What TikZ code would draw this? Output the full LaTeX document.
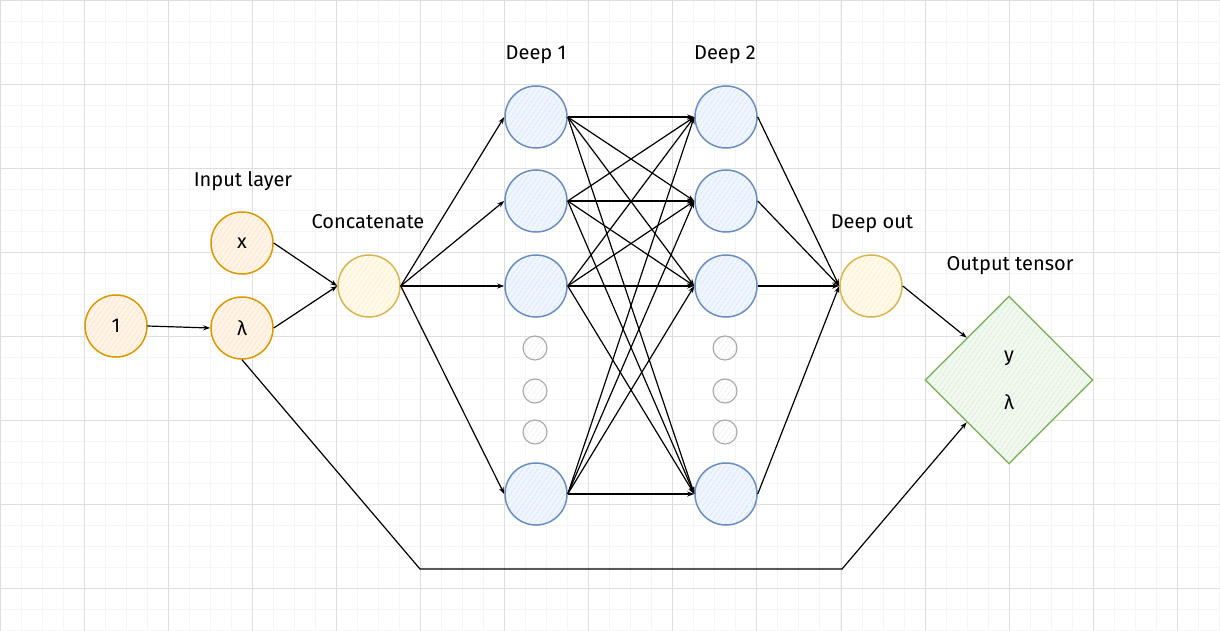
\documentclass[tikz,border=0pt]{standalone}
\usepackage{fontspec}
\setmainfont{Fira Sans}
\usetikzlibrary{arrows.meta,patterns.meta,shapes.geometric}
\definecolor{majorgrid}{HTML}{DEDEDE}
\definecolor{minorgrid}{HTML}{F5F5F5}
\definecolor{orangestroke}{HTML}{D79B00}
\definecolor{orangebase}{HTML}{FFF4E8}
\definecolor{orangehatch}{HTML}{FCD5AA}
\definecolor{yellowstroke}{HTML}{D6B656}
\definecolor{yellowbase}{HTML}{FFFAEA}
\definecolor{yellowhatch}{HTML}{FBE6A4}
\definecolor{bluestroke}{HTML}{6C8EBF}
\definecolor{bluebase}{HTML}{F0F6FE}
\definecolor{bluehatch}{HTML}{C2D8F4}
\definecolor{greenstroke}{HTML}{82B366}
\definecolor{greenbase}{HTML}{F2F9F0}
\definecolor{greenhatch}{HTML}{C6E1BD}
\definecolor{greystroke}{HTML}{A8A8A8}
\definecolor{greyhatch}{HTML}{E2E2E2}
\newcommand{\labfont}{\fontsize{20}{24}\selectfont}
\tikzset{
  minorline/.style={draw=minorgrid, line width=1pt},
  majorline/.style={draw=majorgrid, line width=1pt},
  neuron/.style={circle, minimum size=62pt, inner sep=0pt, line width=1.5pt, font=\labfont},
  orangenode/.style={neuron, draw=orangestroke, preaction={fill=orangebase},
    pattern={Lines[angle=55,distance=4pt,line width=0.7pt]}, pattern color=orangehatch},
  yellownode/.style={neuron, draw=yellowstroke, preaction={fill=yellowbase},
    pattern={Lines[angle=55,distance=4pt,line width=0.7pt]}, pattern color=yellowhatch},
  bluenode/.style={neuron, draw=bluestroke, preaction={fill=bluebase},
    pattern={Lines[angle=55,distance=4pt,line width=0.7pt]}, pattern color=bluehatch},
  greynode/.style={circle, minimum size=24pt, inner sep=0pt, line width=1.1pt, draw=greystroke,
    pattern={Lines[angle=55,distance=4pt,line width=0.6pt]}, pattern color=greyhatch},
  outnode/.style={diamond, aspect=1, minimum width=168pt, minimum height=168pt, inner sep=0pt,
    line width=1.4pt, draw=greenstroke, preaction={fill=greenbase},
    pattern={Lines[angle=55,distance=4pt,line width=0.7pt]}, pattern color=greenhatch,
    align=center, font=\fontsize{20}{48}\selectfont},
  caption/.style={anchor=base, inner sep=0pt, font=\labfont},
  edge/.style={draw=black, line width=1.2pt, -{Stealth[length=7pt,width=5pt]}}
}
\begin{document}
\begin{tikzpicture}[x=1pt,y=-1pt]
\useasboundingbox (0,0) rectangle (1220,631);
\fill[white] (0,0) rectangle (1220,631);
% grid
\foreach \i in {0,...,58} { \pgfmathsetmacro{\gx}{round(21.0125*\i)+0.5} \draw[minorline] (\gx,0) -- ++(0,631); }
\foreach \j in {0,...,30} { \pgfmathsetmacro{\gy}{round(21.0125*\j)+0.5} \draw[minorline] (0,\gy) -- ++(1220,0); }
\foreach \i in {0,...,14} { \pgfmathsetmacro{\gx}{round(84.05*\i)+0.5} \draw[majorline] (\gx,0) -- ++(0,631); }
\foreach \j in {0,...,7} { \pgfmathsetmacro{\gy}{round(84.05*\j)+0.5} \draw[majorline] (0,\gy) -- ++(1220,0); }

% captions
\node[caption] (capin) at (243,187) {Input layer};
\node[caption] (capcat) at (368,228) {Concatenate};
\node[caption] (capd1) at (536,60) {Deep 1};
\node[caption] (capd2) at (725,60) {Deep 2};
\node[caption] (capdo) at (872,228) {Deep out};
\node[caption] (capout) at (1010,270) {Output tensor};

% nodes
\node[orangenode] (one) at (116,326) {1};
\node[orangenode] (xin) at (242,243) {x};
\node[orangenode] (lam) at (242,328) {λ};
\node[yellownode] (cat) at (369,286) {};
\node[bluenode] (d11) at (536,117) {};
\node[bluenode] (d12) at (536,201) {};
\node[bluenode] (d13) at (536,286) {};
\node[bluenode] (d14) at (536,494) {};
\node[bluenode] (d21) at (726,117) {};
\node[bluenode] (d22) at (726,201) {};
\node[bluenode] (d23) at (726,286) {};
\node[bluenode] (d24) at (726,494) {};
\node[greynode] (g11) at (535,348) {};
\node[greynode] (g12) at (535,391) {};
\node[greynode] (g13) at (535,432) {};
\node[greynode] (g21) at (725,348) {};
\node[greynode] (g22) at (725,391) {};
\node[greynode] (g23) at (725,432) {};
\node[yellownode] (dout) at (871,286) {};
\node[outnode] (out) at (1009,380) {y\\λ};
\coordinate (c1) at (420,569);
\coordinate (c2) at (842,569);

% edges
\draw[edge] (one.east) -- (lam.west);
\draw[edge] (xin.east) -- (cat.west);
\draw[edge] (lam.east) -- (cat.west);
\foreach \a in {1,...,4} {
  \draw[edge] (cat.east) -- (d1\a.west);
  \draw[edge] (d2\a.east) -- (dout.west);
  \foreach \b in {1,...,4} {
    \draw[edge] (d1\a.east) -- (d2\b.west);
  }
}
\draw[edge] (dout.east) -- (out.north west);
\draw[edge] (lam.south) -- (c1) -- (c2) -- (out.south west);
\end{tikzpicture}
\end{document}
